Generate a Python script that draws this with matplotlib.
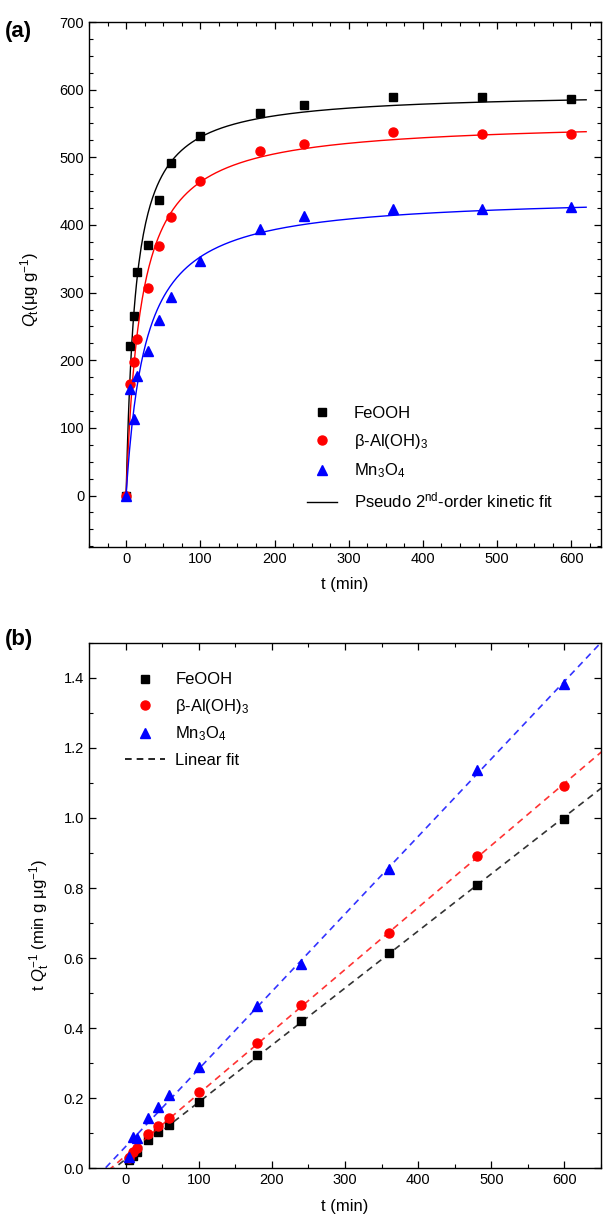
import matplotlib
matplotlib.use("Agg")
import matplotlib.pyplot as plt
import numpy as np
from matplotlib.ticker import MultipleLocator

plt.rcParams['font.family'] = ['Liberation Sans', 'DejaVu Sans']
plt.rcParams['mathtext.fontset'] = 'custom'
plt.rcParams['mathtext.rm'] = 'Liberation Sans'
plt.rcParams['mathtext.it'] = 'Liberation Sans:style=italic'

# time points (min)
t = np.array([0, 5, 10, 15, 30, 45, 60, 100, 180, 240, 360, 480, 600])
# (a) uptake Qt (ug/g)
q_fe = np.array([0, 221, 265, 330, 371, 437, 491, 532, 566, 577, 589, 589, 586])
q_al = np.array([0, 165, 197, 231, 307, 369, 412, 465, 509, 519, 537, 534, 534])
q_mn = np.array([0, 158, 113, 177, 214, 259, 294, 347, 394, 413, 423, 423, 427])

# (b) t/Qt (min g/ug)
tb = np.array([5, 10, 15, 30, 45, 60, 100, 180, 240, 360, 480, 600])
r_fe = np.array([0.024, 0.035, 0.046, 0.081, 0.103, 0.122, 0.190, 0.324, 0.419, 0.613, 0.809, 0.998])
r_al = np.array([0.030, 0.046, 0.058, 0.096, 0.119, 0.144, 0.217, 0.357, 0.465, 0.672, 0.892, 1.091])
r_mn = np.array([0.032, 0.089, 0.085, 0.144, 0.174, 0.208, 0.290, 0.462, 0.584, 0.853, 1.138, 1.382])

names = ['FeOOH', r'β-Al(OH)$_3$', r'Mn$_3$O$_4$']
colors = ['black', 'red', 'blue']
markers = ['s', 'o', '^']
msizes = [6, 6.5, 7]


def pso_fit(t, q):
    # crude grid search for pseudo second-order parameters
    qe = np.linspace(350, 750, 401)[:, None, None]
    k = np.logspace(-6, -2.5, 351)[None, :, None]
    pred = qe**2 * k * t / (1 + qe * k * t)
    sse = ((pred - q)**2).sum(-1)
    i, j = np.unravel_index(sse.argmin(), sse.shape)
    return qe[i, 0, 0], k[0, j, 0]


def style(ax):
    ax.tick_params(which='both', direction='in', top=True, right=True, labelsize=10.5)
    ax.tick_params(which='major', length=5, width=0.9)
    ax.tick_params(which='minor', length=3, width=0.8)
    for s in ax.spines.values():
        s.set_linewidth(1.0)


fig = plt.figure(figsize=(6.03, 12.22), dpi=100)
ax1 = fig.add_axes([89/603, 1-547/1222, 512/603, 525/1222])
ax2 = fig.add_axes([89/603, 1-1168/1222, 512/603, 525/1222])

# (a)
tf = np.linspace(0, 620, 400)
for q, c, m, ms, nm in zip([q_fe, q_al, q_mn], colors, markers, msizes, names):
    ax1.plot(t, q, ls='none', marker=m, ms=ms, color=c, label=nm)
    qe, k = pso_fit(t, q)
    ax1.plot(tf, qe**2 * k * tf / (1 + qe * k * tf), color=c, lw=1.0)
ax1.plot([], [], color='black', lw=1.0, label=r'Pseudo 2$^{\mathrm{nd}}$-order kinetic fit')
ax1.set_xlim(-50, 640)
ax1.set_ylim(-76, 700)
ax1.xaxis.set_major_locator(MultipleLocator(100))
ax1.xaxis.set_minor_locator(MultipleLocator(25))
ax1.yaxis.set_major_locator(MultipleLocator(100))
ax1.yaxis.set_minor_locator(MultipleLocator(25))
style(ax1)
ax1.set_xlabel('t (min)', fontsize=12, labelpad=8)
ax1.set_ylabel(r'$Q_\mathrm{t}$(μg g$^{-1}$)', fontsize=12)
ax1.yaxis.set_label_coords(-0.094, 0.49)
ax1.legend(loc='upper left', bbox_to_anchor=(0.41, 0.285), frameon=False, fontsize=12,
           handlelength=1.8, handletextpad=1.0, labelspacing=0.65, borderpad=0)

# (b)
tl = np.linspace(-60, 660, 10)
for r, c, m, ms, nm in zip([r_fe, r_al, r_mn], colors, markers, msizes, names):
    ax2.plot(tb, r, ls='none', marker=m, ms=ms, color=c, label=nm)
    p = np.polyfit(tb, r, 1)
    ax2.plot(tl, np.polyval(p, tl), color=c, lw=1.2, ls=(0, (4, 3)), alpha=0.8)
ax2.plot([], [], color='black', lw=1.2, ls=(0, (4, 3)), label='Linear fit')
ax2.set_xlim(-50, 650)
ax2.set_ylim(0, 1.5)
ax2.xaxis.set_major_locator(MultipleLocator(100))
ax2.xaxis.set_minor_locator(MultipleLocator(50))
ax2.yaxis.set_major_locator(MultipleLocator(0.2))
ax2.yaxis.set_minor_locator(MultipleLocator(0.1))
ax2.yaxis.set_major_formatter(matplotlib.ticker.FormatStrFormatter('%.1f'))
style(ax2)
ax2.set_xlabel('t (min)', fontsize=12, labelpad=9)
ax2.set_ylabel(r't $Q_\mathrm{t}^{-1}$ (min g μg$^{-1}$)', fontsize=12)
ax2.yaxis.set_label_coords(-0.072, 0.463)
ax2.legend(loc='upper left', bbox_to_anchor=(0.055, 0.96), frameon=False, fontsize=12,
           handlelength=2.4, handletextpad=0.6, labelspacing=0.55, borderpad=0)

fig.text(5/603, 1-32/1222, '(a)', fontsize=16, fontweight='bold', va='center')
fig.text(5/603, 1-640/1222, '(b)', fontsize=16, fontweight='bold', va='center')

fig.savefig('out.png', dpi=100)
